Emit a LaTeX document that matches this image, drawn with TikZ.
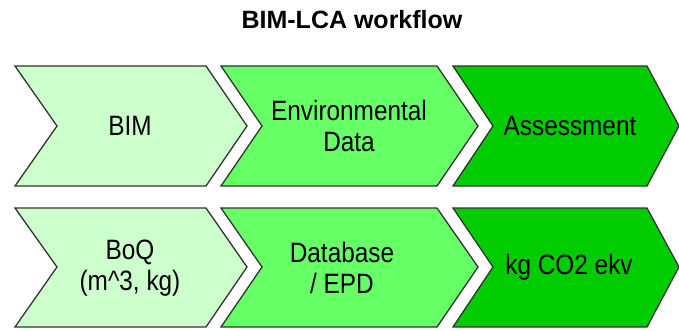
\documentclass[tikz,border=0pt]{standalone}
\usepackage{fontspec}
\setmainfont{Liberation Sans}
\newfontfamily\chevfont[FakeStretch=0.87]{Liberation Sans}
\begin{document}
\begin{tikzpicture}[x=1pt,y=1pt,
  chev/.style={draw=black!80, line width=1.3pt, line join=miter},
  pale/.style={chev, fill={rgb,255:red,204;green,255;blue,204}},
  mid/.style={chev, fill={rgb,255:red,102;green,255;blue,102}},
  deep/.style={chev, fill={rgb,255:red,0;green,204;blue,0}},
  label/.style={font=\chevfont\fontsize{28}{31}\selectfont, align=center, inner sep=0pt, text=black},
  title/.style={font=\bfseries\fontsize{25}{28}\selectfont, inner sep=0pt}]
\useasboundingbox (0,0) rectangle (679,-331);
\clip (0,0) rectangle (679,-331);

% top row (top edge at 66, bottom at 186)
\path[pale] (15,-66) -- (206,-66) -- (247,-126) -- (206,-186) -- (15,-186) -- (57,-126) -- cycle;
\path[mid]  (221,-66) -- (437,-66) -- (478,-126) -- (437,-186) -- (221,-186) -- (262,-126) -- cycle;
\path[deep] (453,-66) -- (647,-66) -- (679,-126) -- (647,-186) -- (453,-186) -- (493,-126) -- cycle;

% bottom row (top edge at 208, bottom at 327)
\path[pale] (15,-208) -- (206,-208) -- (247,-267) -- (206,-327) -- (15,-327) -- (57,-267) -- cycle;
\path[mid]  (221,-208) -- (437,-208) -- (478,-267) -- (437,-327) -- (221,-327) -- (262,-267) -- cycle;
\path[deep] (453,-208) -- (647,-208) -- (679,-267) -- (647,-327) -- (453,-327) -- (493,-267) -- cycle;

\node[title] (ttl) at (352,-20) {BIM-LCA workflow};

\node[label] (bim)  at (130,-126) {BIM};
\node[label] (env)  at (349,-126) {Environmental\\Data};
\node[label] (ass)  at (570,-126) {Assessment};
\node[label] (boq)  at (130,-268) {BoQ\\(m\^{}3, kg)};
\node[label] (epd)  at (342,-268) {Database\\/ EPD};
\node[label] (co2)  at (569,-267) {kg CO2 ekv};
\end{tikzpicture}
\end{document}
